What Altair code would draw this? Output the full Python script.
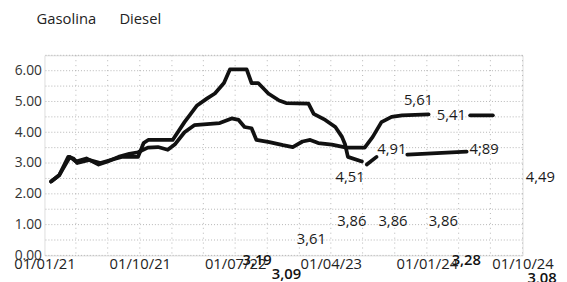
import altair as alt
import pandas as pd

# ---- line data ----
diesel_seg1_dates = ["2021-01-20", "2021-02-12", "2021-03-10", "2021-03-25", "2021-04-05",
                     "2021-05-10", "2021-06-10", "2021-07-10", "2021-08-10", "2021-09-26",
                     "2021-10-12", "2021-10-25", "2022-01-03", "2022-02-06", "2022-03-14",
                     "2022-04-12", "2022-05-04", "2022-05-30", "2022-06-16", "2022-08-03",
                     "2022-08-17", "2022-09-05", "2022-10-04", "2022-11-04", "2022-11-24",
                     "2023-01-27", "2023-02-11", "2023-03-16", "2023-04-14", "2023-05-03",
                     "2023-05-12", "2023-05-20", "2023-06-29"]
diesel_seg1_values = [2.4, 2.6, 3.2, 3.15, 3.0,
                      3.1, 3.0, 3.1, 3.2, 3.2,
                      3.65, 3.75, 3.75, 4.33, 4.87,
                      5.1, 5.26, 5.6, 6.04, 6.04,
                      5.6, 5.6, 5.26, 5.03, 4.95,
                      4.93, 4.6, 4.4, 4.17, 3.85,
                      3.6, 3.2, 3.05]
diesel_seg2_dates = ["2023-07-13", "2023-08-10"]
diesel_seg2_values = [2.95, 3.2]
diesel_seg3_dates = ["2023-11-06", "2024-04-24"]
diesel_seg3_values = [3.27, 3.37]

gasolina_seg1_dates = ["2021-01-20", "2021-02-12", "2021-03-15", "2021-04-01", "2021-05-01",
                       "2021-06-05", "2021-07-01", "2021-08-01", "2021-09-01", "2021-09-26",
                       "2021-10-24", "2021-11-22", "2021-12-20", "2022-01-09", "2022-02-06",
                       "2022-03-06", "2022-05-18", "2022-06-21", "2022-07-11", "2022-07-28",
                       "2022-08-17", "2022-08-31", "2022-10-07", "2022-11-15", "2022-12-13",
                       "2023-01-10", "2023-02-01", "2023-02-24", "2023-04-04", "2023-05-16",
                       "2023-07-07", "2023-07-30", "2023-08-24", "2023-09-22", "2023-10-22",
                       "2024-01-06"]
gasolina_seg1_values = [2.4, 2.6, 3.2, 3.05, 3.15,
                        2.95, 3.05, 3.2, 3.3, 3.35,
                        3.5, 3.52, 3.43, 3.6, 4.0,
                        4.23, 4.3, 4.45, 4.4, 4.17,
                        4.13, 3.75, 3.68, 3.58, 3.52,
                        3.7, 3.75, 3.65, 3.6, 3.5,
                        3.5, 3.85, 4.33, 4.5, 4.55,
                        4.58]
gasolina_seg2_dates = ["2024-05-04", "2024-07-08"]
gasolina_seg2_values = [4.55, 4.55]

series_names = ["Gasolina", "Diesel"]

# ---- annotation labels ----
label_texts = ["5,61", "5,41", "4,91", "4;89", "4,51", "4,49", "3,86", "3,86", "3,86",
               "3,61", "3,19", "3,09", "3,28", "3,08"]
label_dates = ["2023-12-08", "2024-03-11", "2023-09-23", "2024-06-13", "2023-05-26",
               "2024-11-21", "2023-05-31", "2023-09-26", "2024-02-17", "2023-02-04",
               "2022-09-02", "2022-11-25", "2024-04-23", "2024-11-26"]
label_values = [5.03, 4.55, 3.46, 3.46, 2.53, 2.53, 1.12, 1.12, 1.12,
                0.54, -0.16, -0.61, -0.16, -0.74]
label_bold = [False, False, False, False, False, False, False, False, False,
              False, True, True, True, True]

# ---- axis / grid values ----
y_grid = [0, 0.5, 1, 1.5, 2, 2.5, 3, 3.5, 4, 4.5, 5, 5.5, 6, 6.5]
y_labels = [0, 1, 2, 3, 4, 5, 6]
x_grid = ["2021-04-01", "2021-07-01", "2021-10-01", "2022-01-01", "2022-04-01", "2022-07-01",
          "2022-10-01", "2023-01-01", "2023-04-01", "2023-07-01", "2023-10-01", "2024-01-01",
          "2024-04-01", "2024-07-01", "2024-10-01"]
x_tick_dates = [(2021, 1), (2021, 10), (2022, 7), (2023, 4), (2024, 1), (2024, 10)]

rows = []
def add(series, seg, dates, values):
    for d, v in zip(dates, values):
        rows.append({"serie": series, "seg": f"{series}{seg}", "data": d, "valor": v})

add("Diesel", 1, diesel_seg1_dates, diesel_seg1_values)
add("Diesel", 2, diesel_seg2_dates, diesel_seg2_values)
add("Diesel", 3, diesel_seg3_dates, diesel_seg3_values)
add("Gasolina", 1, gasolina_seg1_dates, gasolina_seg1_values)
add("Gasolina", 2, gasolina_seg2_dates, gasolina_seg2_values)
lines_df = pd.DataFrame(rows)

labels_df = pd.DataFrame({"data": label_dates, "valor": label_values, "txt": label_texts,
                          "bold": label_bold})

FONT = "Open Sans"
x_scale = alt.Scale(type="utc",
                    domain=[alt.DateTime(year=2021, month=1, date=1, utc=True),
                            alt.DateTime(year=2024, month=10, date=1, utc=True)])
y_scale = alt.Scale(domain=[0, 6.5], nice=False, zero=False)

x_axis = alt.Axis(values=[alt.DateTime(year=y, month=m, date=1, utc=True) for y, m in x_tick_dates],
                  labelExpr="utcFormat(datum.value, '%d/%m/%y')", grid=False, domain=False, ticks=False,
                  labelPadding=1, labelFontSize=15, labelFont=FONT, labelColor="#222",
                  title=None, labelOverlap=False, labelFlush=False)
y_axis = alt.Axis(values=y_labels, format=".2f", grid=False, domain=False, ticks=False,
                  labelPadding=3, labelFontSize=14, labelFont=FONT, labelColor="#333",
                  title=None)

hgrid = alt.Chart(pd.DataFrame({"v": y_grid})).mark_rule(
    color="#b5b5b5", strokeWidth=1, strokeDash=[1, 2]
).encode(y=alt.Y("v:Q", scale=y_scale, axis=y_axis))

vgrid = alt.Chart(pd.DataFrame({"d": x_grid})).mark_rule(
    color="#b5b5b5", strokeWidth=1, strokeDash=[1, 4]
).encode(x=alt.X("d:T", scale=x_scale, axis=x_axis))

lines = alt.Chart(lines_df).mark_line(strokeWidth=3.8, strokeJoin="round", strokeCap="round").encode(
    x=alt.X("data:T", scale=x_scale, axis=x_axis),
    y=alt.Y("valor:Q", scale=y_scale, axis=y_axis),
    detail="seg:N",
    color=alt.Color("serie:N",
                    scale=alt.Scale(domain=series_names, range=["#111111", "#111111"]),
                    legend=alt.Legend(orient="none", legendX=-23, legendY=-45, direction="horizontal",
                                      title=None, symbolSize=0, symbolStrokeWidth=0, symbolOpacity=0,
                                      labelFontSize=15, labelFont=FONT, labelColor="#222",
                                      labelOffset=0, columnPadding=8)),
)

txt_normal = alt.Chart(labels_df[~labels_df["bold"]]).mark_text(
    fontSize=15, font=FONT, color="#1a1a1a", align="center", baseline="middle"
).encode(
    x=alt.X("data:T", scale=x_scale, axis=x_axis),
    y=alt.Y("valor:Q", scale=y_scale, axis=y_axis),
    text="txt:N",
)
txt_bold = alt.Chart(labels_df[labels_df["bold"]]).mark_text(
    fontSize=15, font=FONT, fontWeight=600, color="#111", align="center", baseline="middle"
).encode(
    x=alt.X("data:T", scale=x_scale, axis=x_axis),
    y=alt.Y("valor:Q", scale=y_scale, axis=y_axis),
    text="txt:N",
)

chart = alt.layer(hgrid, vgrid, lines, txt_normal, txt_bold).properties(
    width=485, height=203,
    autosize=alt.AutoSizeParams(type="none"),
    padding={"left": 37, "top": 46, "right": 37, "bottom": 25},
).configure_view(stroke=None).configure(background="white")

chart.save("out.html", embed_options={"renderer": "svg", "actions": False})
